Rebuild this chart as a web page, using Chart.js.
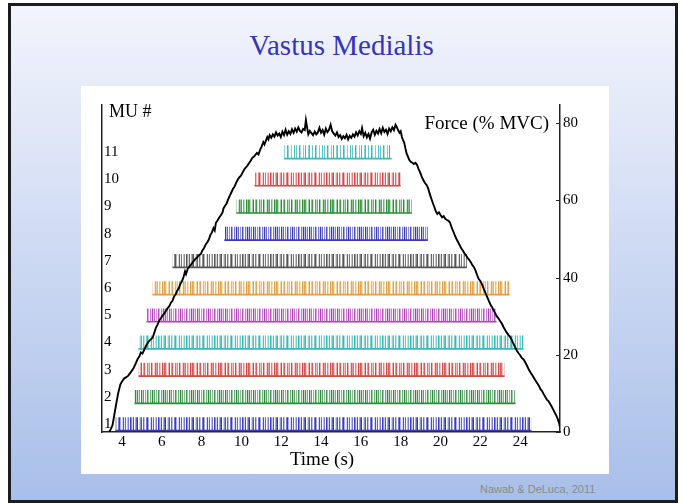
<!DOCTYPE html>
<html>
<head>
<meta charset="utf-8">
<script src="https://cdn.jsdelivr.net/npm/chart.js@4.4.1/dist/chart.umd.min.js"></script>
<style>
  body { margin: 0; width: 683px; height: 504px; background: #fff; position: relative; overflow: hidden; }
  #slide { position: absolute; left: 8px; top: 3px; width: 664px; height: 494px; border: 3px solid #1c1c1c;
           background: linear-gradient(#f3f4fc, #a8bfe9); }
  #title { position: absolute; left: 0; top: 31px; width: 683px; text-align: center;
           font: 29px/29px "Liberation Serif", serif; color: #3535b8; }
  #plot { position: absolute; left: 81px; top: 86px; width: 528px; height: 388px; background: #fff; }
  #credit { position: absolute; left: 480px; top: 484px; font: 11px/11px "Liberation Sans", sans-serif; color: #8a8a8a; }
</style>
</head>
<body>
<div id="slide"></div>
<div id="title">Vastus Medialis</div>
<div id="plot"><canvas id="chart" width="528" height="388"></canvas></div>
<div id="credit">Nawab &amp; DeLuca, 2011</div>
<script>
// motor units, recruitment and de-recruitment times (s)
const muNumbers = [1, 2, 3, 4, 5, 6, 7, 8, 9, 10, 11];
const muOnset  = [3.7, 4.65, 4.85, 4.85, 5.25, 5.55, 6.56, 9.16, 9.76, 10.67, 12.17];
const muOffset = [24.55, 23.75, 23.2, 24.15, 22.8, 23.45, 21.3, 19.34, 18.54, 17.98, 17.53];
const muColors = ["#3a3ab4", "#2e8b3a", "#d04848", "#3bb8b8", "#b040b8", "#e0a040",
                  "#555555", "#3a3ab4", "#2e8b3a", "#d04848", "#3bb8b8"];

const timeTicks = [4, 6, 8, 10, 12, 14, 16, 18, 20, 22, 24];
const forceTicks = [0, 20, 40, 60, 80];

// force (% MVC) vs time (s)
const forceSamples = [
  [3.35,0],[3.45,0.8],[3.53,1.8],[3.62,4.5],[3.72,7.5],[3.82,10.2],[3.92,12.3],[4.02,13.2],[4.12,13.9],
  [4.22,14.2],[4.32,14.6],[4.42,15.3],[4.5,15.9],[4.59,16.6],[4.68,17.6],[4.79,18.9],[4.88,19.6],
  [4.95,20.6],[5.03,20.3],[5.12,21.3],[5.22,22.4],[5.3,23.1],[5.37,23.6],[5.45,24.0],[5.54,24.4],
  [5.62,25.6],[5.7,26.9],[5.79,27.8],[5.88,28.9],[5.97,29.6],[6.06,30.3],[6.14,30.8],[6.21,31.4],
  [6.3,32.1],[6.38,32.6],[6.46,33.5],[6.54,34.0],[6.62,35.1],[6.7,35.7],[6.78,36.6],[6.86,37.3],
  [6.94,38.4],[7.02,39.1],[7.1,40.2],[7.17,41.6],[7.22,40.9],[7.3,42.2],[7.38,42.8],[7.46,43.3],
  [7.54,43.9],[7.62,44.3],[7.7,44.9],[7.78,45.2],[7.86,45.8],[7.96,46.1],[8.04,47.0],[8.12,47.6],
  [8.2,48.5],[8.28,49.1],[8.36,49.8],[8.44,51.0],[8.52,51.7],[8.6,52.8],[8.66,52.2],[8.72,54.2],
  [8.8,54.8],[8.88,55.5],[8.96,56.1],[9.05,56.8],[9.1,57.9],[9.18,58.6],[9.26,59.2],[9.34,60.3],
  [9.42,61.2],[9.5,62.1],[9.58,63.0],[9.66,63.6],[9.74,64.6],[9.82,65.4],[9.9,66.0],[9.98,66.4],
  [10.06,67.2],[10.14,68.0],[10.22,68.5],[10.3,69.0],[10.38,69.6],[10.46,70.2],[10.55,71.0],
  [10.62,71.3],[10.7,71.8],[10.78,72.3],[10.86,71.9],[10.94,73.1],[11.02,74.0],[11.1,75.1],
  [11.16,74.5],[11.24,75.6],[11.3,76.4],[11.36,75.8],[11.42,76.9],[11.5,76.2],[11.58,77.1],
  [11.66,76.5],[11.74,77.6],[11.82,76.8],[11.9,77.3],[11.98,76.4],
  [12.06,77.8],[12.14,76.9],[12.22,78.3],[12.3,77.0],[12.38,77.9],[12.46,77.2],[12.54,78.4],
  [12.62,77.5],[12.7,78.6],[12.78,77.8],[12.86,78.9],[12.94,78.0],[13.02,77.6],[13.1,78.5],
  [13.18,78.2],[13.24,80.8],[13.3,78.9],[13.36,77.1],[13.44,78.0],[13.52,77.4],[13.6,76.9],
  [13.68,77.8],[13.76,77.1],[13.84,77.6],[13.92,78.8],[14.0,77.5],[14.08,78.2],[14.16,77.0],
  [14.24,78.6],[14.32,77.7],[14.4,78.3],[14.48,79.6],[14.56,77.9],[14.64,77.3],[14.72,76.8],
  [14.8,77.6],[14.88,76.4],[14.96,76.9],[15.04,75.9],[15.12,76.6],[15.2,76.1],[15.28,77.0],
  [15.36,75.8],[15.44,76.7],[15.52,76.2],[15.6,77.1],[15.68,76.5],[15.76,77.6],[15.84,76.8],
  [15.92,77.9],[16.0,77.2],[16.06,78.7],[16.14,76.6],[16.22,77.5],[16.3,76.3],[16.38,77.2],
  [16.46,76.0],[16.54,77.6],[16.62,78.3],[16.7,77.0],[16.78,78.0],[16.86,77.3],[16.94,78.5],
  [17.02,77.4],[17.1,78.8],[17.18,77.7],[17.26,78.3],[17.34,77.2],[17.42,78.6],[17.5,77.9],
  [17.58,78.9],[17.66,78.2],[17.74,79.6],[17.8,79.0],[17.86,78.3],[17.94,77.5],[18.0,77.9],
  [18.06,76.4],[18.12,75.6],[18.18,74.9],[18.24,73.4],[18.3,72.1],[18.36,71.4],[18.42,70.6],
  [18.5,70.0],[18.58,69.8],[18.66,69.4],[18.74,69.7],[18.82,69.2],[18.9,68.1],[18.98,67.2],
  [19.06,66.1],[19.14,65.2],[19.22,64.5],[19.3,64.0],[19.38,63.1],[19.44,62.0],[19.52,60.7],
  [19.6,59.5],[19.68,58.4],[19.76,57.2],[19.84,56.5],[19.92,56.9],[20.0,56.2],[20.08,55.6],
  [20.16,55.9],[20.24,55.2],[20.32,54.9],[20.4,54.7],[20.48,54.2],[20.56,52.9],[20.64,52.0],
  [20.72,50.9],[20.8,50.0],[20.88,49.2],[20.96,48.4],[21.04,47.6],[21.12,47.0],[21.2,46.3],
  [21.28,45.7],[21.36,45.1],[21.44,44.6],[21.52,44.0],[21.6,43.2],[21.68,42.7],[21.76,41.8],
  [21.84,40.6],[21.92,39.6],[22.0,39.1],[22.08,38.3],[22.16,37.2],[22.24,36.2],[22.33,35.1],
  [22.42,34.0],[22.5,33.1],[22.58,32.4],[22.66,31.6],[22.74,30.8],[22.82,30.0],[22.9,29.5],
  [23.0,28.7],[23.08,28.1],[23.16,27.2],[23.24,26.5],[23.32,25.8],[23.42,25.1],[23.5,24.6],
  [23.58,23.8],[23.66,22.9],[23.75,21.9],[23.83,21.1],[23.92,20.4],[24.0,19.9],[24.08,19.2],
  [24.17,18.8],[24.26,18.0],[24.35,17.1],[24.44,16.1],[24.52,15.4],[24.6,14.8],[24.67,14.2],
  [24.76,13.4],[24.85,12.7],[24.94,12.0],[25.02,11.1],[25.1,10.6],[25.18,9.8],[25.26,9.1],
  [25.34,8.4],[25.42,8.0],[25.5,7.3],[25.58,6.6],[25.66,5.8],[25.74,5.0],[25.82,4.2],
  [25.9,3.2],[25.96,2.2],[26.0,1.2]
];

// stripe texture for the spike trains (alpha per pixel column, 0-9)
const stripeCodes = ["9025807306940281703609528047", "8260937051840629370518406293",
                     "7304905820736094028570630948", "9006800700950060080700940060"];

function spikePattern(color, code) {
  const c = document.createElement("canvas");
  c.width = code.length; c.height = 4;
  const g = c.getContext("2d");
  g.fillStyle = color;
  for (let i = 0; i < code.length; i++) {
    g.globalAlpha = Number(code[i]) / 9;
    g.fillRect(i, 0, 1, 4);
  }
  return g.createPattern(c, "repeat");
}

const ctx = document.getElementById("chart");
const patterns = muColors.map((col, i) => spikePattern(col, stripeCodes[i === 10 ? 3 : i % 3]));

const labelPlugin = {
  id: "labels",
  afterDraw(chart) {
    const c = chart.ctx;
    const fs = chart.scales.force;
    c.save();
    c.strokeStyle = "#222";
    c.lineWidth = 1;
    forceTicks.forEach(v => {
      const y = Math.round(fs.getPixelForValue(v)) + 0.5;
      c.beginPath(); c.moveTo(fs.left - 4, y); c.lineTo(fs.left, y); c.stroke();
    });
    c.fillStyle = "#000";
    c.textBaseline = "alphabetic";
    c.font = '18px "Liberation Serif"';
    c.textAlign = "left";
    c.fillText("MU #", 28, 31);
    c.font = '19px "Liberation Serif"';
    c.textAlign = "right";
    c.fillText("Force (% MVC)", 468, 43);
    c.textAlign = "center";
    c.fillText("Time (s)", 241, 379);
    c.restore();
  }
};

Chart.defaults.font.family = '"Liberation Serif", serif';
Chart.defaults.color = "#000";

new Chart(ctx, {
  type: "line",
  data: {
    datasets: [
      {
        type: "line",
        label: "Force",
        data: forceSamples.map(p => ({ x: p[0], y: p[1] })),
        xAxisID: "x",
        yAxisID: "force",
        borderColor: "#000",
        borderWidth: 1.9,
        pointRadius: 0,
        tension: 0,
        order: 1
      },
      {
        type: "bar",
        label: "Spikes",
        indexAxis: "y",
        data: muNumbers.map((n, i) => ({ y: n, x: [muOnset[i], muOffset[i]] })),
        xAxisID: "x",
        yAxisID: "mu",
        backgroundColor: patterns,
        barThickness: 13,
        grouped: false,
        order: 2
      },
      {
        type: "bar",
        label: "Baseline",
        indexAxis: "y",
        data: muNumbers.map((n, i) => ({ y: n - 0.24, x: [muOnset[i], muOffset[i]] })),
        xAxisID: "x",
        yAxisID: "mu",
        backgroundColor: muColors,
        barThickness: 1,
        grouped: false,
        order: 2
      }
    ]
  },
  options: {
    responsive: false,
    animation: false,
    layout: { padding: { top: 19, left: 0, right: 0, bottom: 0 } },
    plugins: { legend: { display: false }, tooltip: { enabled: false } },
    scales: {
      x: {
        type: "linear", position: "bottom", min: 3, max: 26, offset: false,
        afterBuildTicks: s => { s.ticks = timeTicks.map(v => ({ value: v })); },
        afterFit: s => { s.height = 42; },
        grid: { display: false, drawTicks: false },
        border: { color: "#222", width: 1.5 },
        ticks: { padding: 1, font: { size: 15 }, maxRotation: 0 }
      },
      mu: {
        type: "linear", axis: "y", position: "left", min: 0.706, max: 12.73, offset: false,
        afterBuildTicks: s => { s.ticks = muNumbers.map(v => ({ value: v })); },
        afterFit: s => { s.width = 21; },
        grid: { display: false, drawTicks: false },
        border: { color: "#222", width: 1.5 },
        ticks: { mirror: true, padding: 2, font: { size: 15 } }
      },
      force: {
        type: "linear", axis: "y", position: "right", min: 0, max: 84.7, offset: false,
        afterBuildTicks: s => { s.ticks = forceTicks.map(v => ({ value: v })); },
        afterFit: s => { s.width = 49; },
        grid: { display: false, drawTicks: false },
        border: { color: "#222", width: 1.5 },
        ticks: { padding: 3, font: { size: 15 } }
      }
    }
  },
  plugins: [labelPlugin]
});
</script>
</body>
</html>
